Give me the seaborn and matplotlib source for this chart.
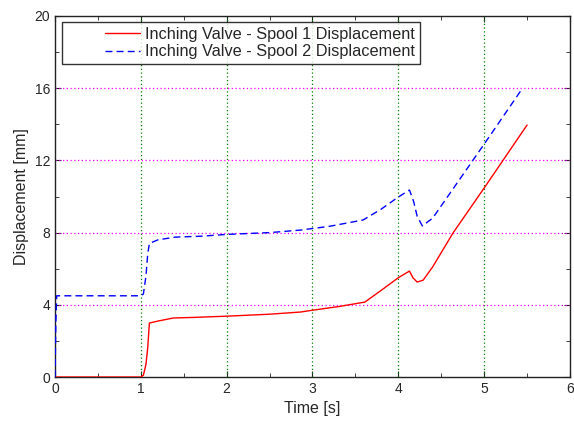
"""Inching valve spool displacement vs time"""
import pandas as pd
import numpy as np
import matplotlib
matplotlib.use('Agg')
import matplotlib.pyplot as plt
import seaborn as sns
from matplotlib.ticker import MultipleLocator
from matplotlib.lines import Line2D
from matplotlib.legend_handler import HandlerLine2D

# Spool 1 displacement (red, solid)
time_s1 = [0.0, 0.5, 1.0, 1.03, 1.06, 1.08, 1.1, 1.2, 1.38, 1.6, 2.0, 2.5, 2.86, 3.0,
           3.3, 3.61, 3.8, 4.0, 4.13, 4.17, 4.22, 4.29, 4.4, 4.64, 5.0, 5.5]
disp_s1 = [0.0, 0.0, 0.0, 0.1, 0.7, 1.6, 2.99, 3.1, 3.27, 3.3, 3.37, 3.48, 3.6, 3.7,
           3.9, 4.15, 4.8, 5.5, 5.87, 5.5, 5.26, 5.37, 6.1, 8.0, 10.47, 13.96]

# Spool 2 displacement (blue, dashed)
time_s2 = [0.0, 0.01, 0.02, 0.5, 1.0, 1.03, 1.06, 1.08, 1.1, 1.2, 1.4, 1.7, 2.0, 2.5,
           2.86, 3.2, 3.59, 3.8, 4.0, 4.13, 4.18, 4.22, 4.28, 4.4, 5.0, 5.44]
disp_s2 = [0.0, 3.0, 4.5, 4.5, 4.5, 4.6, 5.6, 6.8, 7.4, 7.6, 7.75, 7.8, 7.9, 8.0,
           8.14, 8.35, 8.7, 9.3, 9.97, 10.36, 9.7, 8.9, 8.37, 8.8, 12.9, 15.95]

label_s1 = 'Inching Valve - Spool 1 Displacement'
label_s2 = 'Inching Valve - Spool 2 Displacement'

df = pd.concat([
    pd.DataFrame({'Time': time_s1, 'Disp': disp_s1, 'Series': label_s1}),
    pd.DataFrame({'Time': time_s2, 'Disp': disp_s2, 'Series': label_s2}),
], ignore_index=True)

sns.set_style('ticks')
plt.rcParams['font.family'] = ['Liberation Sans', 'DejaVu Sans']

fig = plt.figure(figsize=(5.74, 4.23), dpi=100)
ax = fig.add_axes([0.0958, 0.1087, 0.8972, 0.8535])

# grid lines first so curves draw on top
for x in [1, 2, 3, 4, 5]:
    ax.axvline(x, color='green', linestyle=(0, (1, 2)), linewidth=0.9, zorder=1)
for y in [4, 8, 12, 16]:
    ax.axhline(y, color='magenta', linestyle=(0, (1, 2)), linewidth=0.9, zorder=1)

sns.lineplot(data=df, x='Time', y='Disp', hue='Series', style='Series',
             palette={label_s1: 'red', label_s2: 'blue'},
             dashes={label_s1: '', label_s2: (5, 3)},
             linewidth=1.0, sort=False, estimator=None, ax=ax, zorder=3)

ax.set_xlim(0, 6)
ax.set_ylim(0, 20)
ax.xaxis.set_major_locator(MultipleLocator(1))
ax.xaxis.set_minor_locator(MultipleLocator(0.5))
ax.yaxis.set_major_locator(MultipleLocator(4))
ax.yaxis.set_minor_locator(MultipleLocator(2))
ax.tick_params(which='both', direction='in', top=True, right=True, labelsize=10,
               color='#222222')
ax.tick_params(which='major', length=4)
ax.tick_params(which='minor', length=3)
for sp in ax.spines.values():
    sp.set_color('#222222')
    sp.set_linewidth(1.0)

ax.set_xlabel('Time [s]', fontsize=11.5)
ax.set_ylabel('Displacement [mm]', fontsize=11.5)

# wide legend box with the line sample pushed to the right, as in the original
leg = ax.legend(loc='upper left', bbox_to_anchor=(0.0136, 0.983), fontsize=11.7,
                frameon=True, fancybox=False, edgecolor='black',
                handlelength=4.5, borderpad=0.3, labelspacing=0.15,
                handletextpad=0.3, borderaxespad=0.0,
                handler_map={Line2D: HandlerLine2D(xpad=2.35)})
leg.get_frame().set_linewidth(1.0)

fig.savefig('out.png', dpi=100)
